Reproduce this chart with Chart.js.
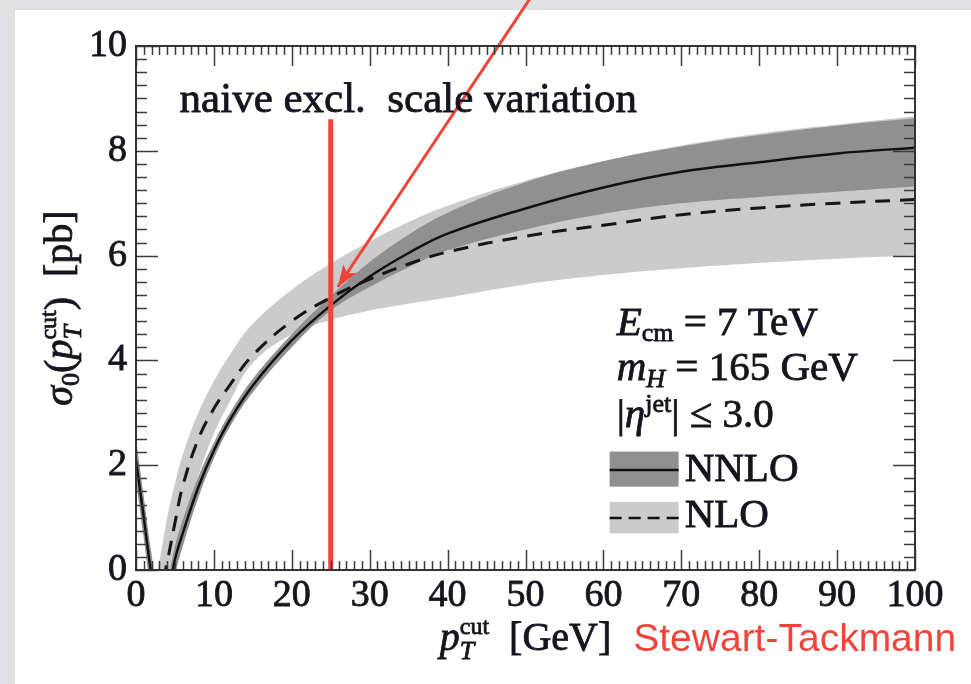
<!DOCTYPE html>
<html>
<head>
<meta charset="utf-8">
<script src="https://cdn.jsdelivr.net/npm/chart.js@4.4.1/dist/chart.umd.min.js"></script>
<style>
  html, body { margin: 0; padding: 0; background: #e1e1e4; overflow: hidden; }
  #panel { position: absolute; left: 15px; top: 10px; right: 0; bottom: 0; background: #fff; }
  #c { position: absolute; left: 0; top: 0; }
</style>
</head>
<body>
<div id="panel"></div>
<canvas id="c" width="971" height="684"></canvas>
<script>
// sigma_0(pT cut) at NNLO and NLO with scale-variation bands

const ptCut = [0, 1, 2, 3, 4, 5, 6, 8, 10, 12, 15, 20, 25, 30, 35, 40, 50, 60, 70, 80, 90, 100];

const nnloCentral = [2.1, 1.0, -0.1, -0.9, -0.6, 0.2, 0.7, 1.58, 2.28, 2.85, 3.52, 4.38, 5.05, 5.6, 6.05, 6.42, 6.9, 7.3, 7.6, 7.78, 7.95, 8.06];
const nnloLow     = [1.7, 0.6, -0.5, -1.3, -1.0, -0.1, 0.45, 1.38, 2.13, 2.72, 3.39, 4.25, 4.95, 5.4, 5.78, 6.1, 6.5, 6.8, 7.0, 7.12, 7.22, 7.32];
const nnloHigh    = [2.5, 1.4, 0.3, -0.5, -0.2, 0.45, 0.95, 1.78, 2.43, 2.98, 3.65, 4.5, 5.23, 5.88, 6.4, 6.82, 7.4, 7.8, 8.08, 8.3, 8.48, 8.62];

const nloCentral = [-3.0, -2.0, -1.2, -0.5, 0.15, 0.9, 1.6, 2.5, 3.08, 3.52, 4.1, 4.75, 5.2, 5.55, 5.84, 6.07, 6.37, 6.58, 6.78, 6.91, 7.0, 7.07];
const nloLow     = [-4.0, -3.0, -2.0, -1.2, -0.3, 0.2, 0.8, 1.8, 2.6, 3.2, 3.95, 4.5, 4.77, 4.95, 5.08, 5.2, 5.45, 5.63, 5.76, 5.86, 5.94, 6.0];
const nloHigh    = [-2.0, -1.2, -0.5, 0.15, 1.0, 1.65, 2.2, 3.0, 3.6, 4.1, 4.7, 5.35, 5.85, 6.27, 6.64, 6.95, 7.43, 7.8, 8.1, 8.33, 8.5, 8.66];

const xTicks = [0, 10, 20, 30, 40, 50, 60, 70, 80, 90, 100];
const yTicks = [0, 2, 4, 6, 8, 10];

// red marker at pT cut = 25 GeV and the arrow pointing at the crossing
const markerX = [25, 25];
const markerY = [0, 8.6];
const arrowX = [51.9, 25.9];
const arrowY = [11.2, 5.4];

const LIGHT = '#cbcbcb';
const DARK = '#909090';
const RED = '#f0443a';
const INK = '#15151f';

const serif = '"Liberation Serif", "Times New Roman", serif';
const F = (size, style = '') => `${style} ${size}px ${serif}`;

const pts = (xs, ys) => xs.map((x, i) => ({ x, y: ys[i] }));

function band(ys, color, fill, order) {
  return {
    data: pts(ptCut, ys),
    borderWidth: 0,
    pointRadius: 0,
    backgroundColor: color,
    fill: fill,
    tension: 0.4,
    order: order
  };
}

// fill plus a hairline stroke so the serif text reads a bit heavier
function ink(ctx, text, x, y) {
  ctx.fillText(text, x, y);
  ctx.strokeText(text, x, y);
}

// text with sub/superscripts, drawn left to right from (x, y) on the baseline
function richWidth(ctx, items) {
  let w = 0;
  items.forEach(it => {
    if (it.sup !== undefined) {
      ctx.font = it.supFont; const a = ctx.measureText(it.sup).width;
      ctx.font = it.subFont; const b = ctx.measureText(it.sub).width;
      w += Math.max(a, b);
    } else {
      ctx.font = it.font; w += ctx.measureText(it.text).width;
    }
  });
  return w;
}

function drawRich(ctx, items, x, y) {
  let cx = x;
  items.forEach(it => {
    if (it.sup !== undefined) {
      ctx.font = it.supFont; const a = ctx.measureText(it.sup).width;
      ink(ctx, it.sup, cx, y + it.supDy);
      ctx.font = it.subFont; const b = ctx.measureText(it.sub).width;
      ink(ctx, it.sub, cx, y + it.subDy);
      cx += Math.max(a, b);
    } else {
      ctx.font = it.font;
      ink(ctx, it.text, cx, y + (it.dy || 0));
      cx += ctx.measureText(it.text).width;
    }
  });
  return cx;
}

const yTitle = [
  { text: 'σ', font: F(40, 'italic') },
  { text: '0', font: F(26), dy: 7 },
  { text: '(', font: F(40) },
  { text: 'p', font: F(40, 'italic') },
  { sup: 'cut', sub: 'T', supFont: F(24), subFont: F(26, 'italic'), supDy: -16, subDy: 9 },
  { text: ')', font: F(40) },
  { text: '  [pb]', font: F(40) }
];

const xTitle = [
  { text: 'p', font: F(40, 'italic') },
  { sup: 'cut', sub: 'T', supFont: F(24), subFont: F(26, 'italic'), supDy: -16, subDy: 9 },
  { text: '  [GeV]', font: F(40) }
];

const infoRows = [
  { y: 4.48, items: [
    { text: 'E', font: F(41, 'italic') },
    { text: 'cm', font: F(26), dy: 6 },
    { text: ' = 7 TeV', font: F(41) }
  ] },
  { y: 3.63, items: [
    { text: 'm', font: F(41, 'italic') },
    { text: 'H', font: F(26, 'italic'), dy: 7 },
    { text: ' = 165 GeV', font: F(41) }
  ] },
  { y: 2.73, items: [
    { text: '|', font: F(41) },
    { text: 'η', font: F(41, 'italic') },
    { text: 'jet', font: F(26), dy: -15 },
    { text: '| ≤ 3.0', font: F(41) }
  ] }
];

// inward ticks on all four sides plus the closed frame
const frameTicks = {
  id: 'frameTicks',
  afterDatasetsDraw(chart) {
    const { ctx, chartArea: a, scales: { x, y } } = chart;
    ctx.save();
    ctx.strokeStyle = '#3c3c3c';
    ctx.lineWidth = 1.5;
    ctx.beginPath();
    for (let v = 0; v <= 100; v += 1) {
      const px = Math.round(x.getPixelForValue(v)) + 0.5;
      const len = v % 10 === 0 ? 20 : 9;
      ctx.moveTo(px, a.bottom); ctx.lineTo(px, a.bottom - len);
      ctx.moveTo(px, a.top); ctx.lineTo(px, a.top + len);
    }
    for (let v = 0; v <= 10; v += 0.25) {
      const py = Math.round(y.getPixelForValue(v)) + 0.5;
      const len = v % 2 === 0 ? 22 : 11;
      ctx.moveTo(a.left, py); ctx.lineTo(a.left + len, py);
      ctx.moveTo(a.right, py); ctx.lineTo(a.right - len, py);
    }
    ctx.stroke();
    ctx.lineWidth = 2;
    ctx.strokeStyle = '#333';
    ctx.strokeRect(a.left, a.top, a.right - a.left, a.bottom - a.top);
    ctx.restore();
  }
};

// arrowhead at the end of the arrow dataset
const arrowHead = {
  id: 'arrowHead',
  afterDatasetsDraw(chart) {
    const meta = chart.getDatasetMeta(7);
    const p0 = meta.data[0], p1 = meta.data[1];
    const ang = Math.atan2(p1.y - p0.y, p1.x - p0.x);
    const len = 22, half = 8;
    const ctx = chart.ctx;
    ctx.save();
    ctx.translate(p1.x, p1.y);
    ctx.rotate(ang);
    ctx.fillStyle = RED;
    ctx.beginPath();
    ctx.moveTo(0, 0);
    ctx.lineTo(-len, -half);
    ctx.lineTo(-len + 5, 0);
    ctx.lineTo(-len, half);
    ctx.closePath();
    ctx.fill();
    ctx.restore();
  }
};

// axis titles, annotation text and the legend block
const annotations = {
  id: 'annotations',
  afterDraw(chart) {
    const { ctx, chartArea: a, scales: { x, y } } = chart;
    ctx.save();
    ctx.fillStyle = INK;
    ctx.strokeStyle = INK;
    ctx.lineWidth = 0.8;
    ctx.textBaseline = 'alphabetic';
    ctx.textAlign = 'left';

    // y title, rotated
    ctx.save();
    const yw = richWidth(ctx, yTitle);
    ctx.translate(72, (a.top + a.bottom) / 2);
    ctx.rotate(-Math.PI / 2);
    drawRich(ctx, yTitle, -yw / 2, 0);
    ctx.restore();

    // x title and credit
    const xw = richWidth(ctx, xTitle);
    const xEnd = drawRich(ctx, xTitle, (a.left + a.right) / 2 - xw / 2, 650);
    ctx.font = '39px "Liberation Sans", Arial, sans-serif';
    ctx.fillStyle = RED;
    ctx.fillText('Stewart-Tackmann', xEnd + 22, 651);
    ctx.fillStyle = INK;

    // annotation above the marker
    ctx.font = F(43);
    ink(ctx, 'naive excl.  scale variation', x.getPixelForValue(5.6), y.getPixelForValue(8.74));

    // parameter lines
    const lx = x.getPixelForValue(61.7);
    infoRows.forEach(r => drawRich(ctx, r.items, lx, y.getPixelForValue(r.y)));

    // legend samples
    const bx = x.getPixelForValue(60.8), bw = 69;
    const rows = [
      { top: 2.26, bot: 1.59, line: 1.91, base: 1.69, color: DARK, dash: [], label: 'NNLO' },
      { top: 1.30, bot: 0.70, line: 0.99, base: 0.815, color: LIGHT, dash: [12, 7], label: 'NLO' }
    ];
    rows.forEach(r => {
      const t = y.getPixelForValue(r.top), b = y.getPixelForValue(r.bot);
      ctx.fillStyle = r.color;
      ctx.fillRect(bx, t, bw, b - t);
      ctx.strokeStyle = '#111';
      ctx.lineWidth = 2.5;
      ctx.setLineDash(r.dash);
      ctx.beginPath();
      const ly = y.getPixelForValue(r.line);
      ctx.moveTo(bx, ly); ctx.lineTo(bx + bw, ly);
      ctx.stroke();
      ctx.setLineDash([]);
      ctx.fillStyle = INK;
      ctx.strokeStyle = INK;
      ctx.lineWidth = 0.8;
      ctx.font = F(41);
      ink(ctx, r.label, bx + bw + 6, y.getPixelForValue(r.base));
    });
    ctx.restore();
  }
};

const tickFont = { family: serif, size: 38 };

new Chart(document.getElementById('c'), {
  type: 'line',
  data: {
    datasets: [
      band(nloHigh, LIGHT, '+1', 4),
      band(nloLow, LIGHT, false, 4),
      band(nnloHigh, DARK, '+1', 3),
      band(nnloLow, DARK, false, 3),
      {
        data: pts(ptCut, nloCentral),
        borderColor: '#161616',
        borderWidth: 3,
        borderDash: [15, 10],
        pointRadius: 0,
        fill: false,
        tension: 0.4,
        order: 2
      },
      {
        data: pts(ptCut, nnloCentral),
        borderColor: '#111',
        borderWidth: 2.5,
        pointRadius: 0,
        fill: false,
        tension: 0.4,
        order: 2
      },
      {
        data: pts(markerX, markerY),
        borderColor: RED,
        borderWidth: 5,
        pointRadius: 0,
        fill: false,
        order: 1
      },
      {
        data: pts(arrowX, arrowY),
        borderColor: RED,
        borderWidth: 3,
        pointRadius: 0,
        fill: false,
        clip: false,
        order: 1
      }
    ]
  },
  options: {
    responsive: false,
    animation: false,
    layout: { padding: { left: 0, top: 46, right: 56, bottom: 0 } },
    plugins: { legend: { display: false }, tooltip: { enabled: false } },
    scales: {
      x: {
        type: 'linear',
        min: 0, max: 100,
        afterFit: s => { s.height = 114; },
        afterBuildTicks: s => { s.ticks = xTicks.map(v => ({ value: v })); },
        grid: { drawOnChartArea: false, drawTicks: false },
        border: { display: false },
        ticks: { padding: 3, autoSkip: false, maxRotation: 0, color: INK, textStrokeColor: INK, textStrokeWidth: 0.8, font: tickFont }
      },
      y: {
        type: 'linear',
        min: 0, max: 10,
        afterFit: s => { s.width = 136; },
        afterBuildTicks: s => { s.ticks = yTicks.map(v => ({ value: v })); },
        grid: { drawOnChartArea: false, drawTicks: false },
        border: { display: false },
        ticks: { padding: 9, color: INK, textStrokeColor: INK, textStrokeWidth: 0.8, font: tickFont }
      }
    }
  },
  plugins: [frameTicks, arrowHead, annotations]
});
</script>
</body>
</html>
